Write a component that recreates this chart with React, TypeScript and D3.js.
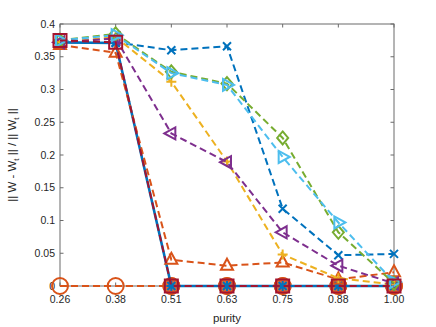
import React from 'react'
import * as d3 from 'd3'

const categories = ['0.26', '0.38', '0.51', '0.63', '0.75', '0.88', '1.00']
const yTicks = [0, 0.05, 0.1, 0.15, 0.2, 0.25, 0.3, 0.35, 0.4]

// one array per curve
const blueSolid = [0.372, 0.371, 0, 0, 0, 0, 0]
const orangeCircle = [0, 0, 0, 0, 0, 0, 0]
const orangeFilled = [null, null, 0, 0, 0, 0, 0]
const blueCross = [0.372, 0.372, 0.36, 0.366, 0.118, 0.047, 0.049]
const orangeTri = [0.368, 0.356, 0.04, 0.031, 0.036, 0.01, 0.021]
const yellowPlus = [0.372, 0.38, 0.312, 0.19, 0.048, 0.012, 0.002]
const purpleLeft = [0.372, 0.378, 0.233, 0.189, 0.082, 0.031, 0.004]
const greenDiamond = [0.375, 0.385, 0.327, 0.309, 0.226, 0.082, 0.004]
const cyanRight = [0.375, 0.383, 0.325, 0.307, 0.197, 0.097, 0.006]
const redSquare = [0.375, 0.372, 0, 0, 0, 0, 0]

type Series = {
    values: (number | null)[]
    color: string
    marker: string
    dashed: boolean
    line: boolean
    width: number
    fill?: string
}

const series: Series[] = [
    { values: orangeFilled, color: '#D95319', marker: 'o', dashed: false, line: false, width: 2, fill: '#E0652C' },
    { values: orangeCircle, color: '#D95319', marker: 'o', dashed: true, line: true, width: 2 },
    { values: blueSolid, color: '#0072BD', marker: '*', dashed: false, line: true, width: 2.6 },
    { values: blueCross, color: '#0072BD', marker: 'x', dashed: true, line: true, width: 2 },
    { values: orangeTri, color: '#D95319', marker: '^', dashed: true, line: true, width: 2 },
    { values: yellowPlus, color: '#EDB120', marker: '+', dashed: true, line: true, width: 2 },
    { values: purpleLeft, color: '#7E2F8E', marker: '<', dashed: true, line: true, width: 2 },
    { values: greenDiamond, color: '#77AC30', marker: 'd', dashed: true, line: true, width: 2 },
    { values: cyanRight, color: '#4DBEEE', marker: '>', dashed: true, line: true, width: 2 },
    { values: redSquare, color: '#A2142F', marker: 's', dashed: true, line: true, width: 2 },
]

const width = 436
const height = 327
const margin = { top: 24, right: 42, bottom: 41, left: 60 }
const innerW = width - margin.left - margin.right
const innerH = height - margin.top - margin.bottom

const markerPath = (m: string, x: number, y: number) => {
    switch (m) {
        case 'x':
            return `M${x - 4},${y - 4}L${x + 4},${y + 4}M${x - 4},${y + 4}L${x + 4},${y - 4}`
        case '+':
            return `M${x - 5},${y}L${x + 5},${y}M${x},${y - 5}L${x},${y + 5}`
        case '*':
            return `M${x - 4},${y - 4}L${x + 4},${y + 4}M${x - 4},${y + 4}L${x + 4},${y - 4}M${x - 5},${y}L${x + 5},${y}M${x},${y - 5}L${x},${y + 5}`
        case '^':
            return `M${x},${y - 7}L${x + 6},${y + 4}L${x - 6},${y + 4}Z`
        case '<':
            return `M${x - 7},${y}L${x + 4},${y - 6}L${x + 4},${y + 6}Z`
        case '>':
            return `M${x + 7},${y}L${x - 4},${y - 6}L${x - 4},${y + 6}Z`
        case 'd':
            return `M${x},${y - 6.5}L${x + 5.5},${y}L${x},${y + 6.5}L${x - 5.5},${y}Z`
        case 's':
            return `M${x - 6.5},${y - 6.5}H${x + 6.5}V${y + 6.5}H${x - 6.5}Z`
        default:
            return ''
    }
}

export default function App() {
    const x = d3.scalePoint<string>().domain(categories).range([margin.left, margin.left + innerW])
    const y = d3.scaleLinear().domain([0, 0.4]).range([margin.top + innerH, margin.top])

    const lineGen = d3.line<number | null>()
        .defined(d => d !== null)
        .x((_, i) => x(categories[i]) as number)
        .y(d => y(d as number))

    const axisColor = '#6a6a6a'
    const textColor = '#262626'
    const font = '"Liberation Sans", Arial, Helvetica, sans-serif'
    const x0 = margin.left
    const x1 = margin.left + innerW
    const y0 = margin.top + innerH
    const y1 = margin.top

    return (
        <svg width={width} height={height} style={{ position: 'absolute', left: 0, top: 0, background: '#fff' }} fontFamily={font}>
            <rect x={0} y={0} width={width} height={height} fill="#fff" />
            {/* box */}
            <rect x={x0} y={y1} width={innerW} height={innerH} fill="none" stroke={axisColor} strokeWidth={1} />
            {categories.map(c => (
                <g key={'xt' + c}>
                    <line x1={x(c)} x2={x(c)} y1={y0} y2={y0 - 3.5} stroke={axisColor} />
                    <line x1={x(c)} x2={x(c)} y1={y1} y2={y1 + 3.5} stroke={axisColor} />
                    <text x={x(c)} y={y0 + 17} textAnchor="middle" fontSize={10.5} fill={textColor}>{c}</text>
                </g>
            ))}
            {yTicks.map(t => (
                <g key={'yt' + t}>
                    <line x1={x0} x2={x0 + 3.5} y1={y(t)} y2={y(t)} stroke={axisColor} />
                    <line x1={x1} x2={x1 - 3.5} y1={y(t)} y2={y(t)} stroke={axisColor} />
                    <text x={x0 - 5} y={y(t)} dy="0.35em" textAnchor="end" fontSize={10.5} fill={textColor}>{String(t)}</text>
                </g>
            ))}
            <text x={(x0 + x1) / 2} y={322} textAnchor="middle" fontSize={11.5} fill={textColor}>purity</text>
            <text transform={`translate(16,${(y0 + y1) / 2}) rotate(-90)`} textAnchor="middle" fontSize={11.5} fill={textColor}>
                <tspan>|| W - W</tspan>
                <tspan fontSize={8} dy={3}>t</tspan>
                <tspan dy={-3}> || / || W</tspan>
                <tspan fontSize={8} dy={3}>t</tspan>
                <tspan dy={-3}> ||</tspan>
            </text>
            {series.map((s, si) => (
                <g key={'s' + si}>
                    {s.line && (
                        <path
                            d={lineGen(s.values) || ''}
                            fill="none"
                            stroke={s.color}
                            strokeWidth={s.width}
                            strokeDasharray={s.dashed ? '7,4' : undefined}
                        />
                    )}
                    {s.values.map((v, i) => {
                        if (v === null) return null
                        const cx = x(categories[i]) as number
                        const cy = y(v)
                        if (s.marker === 'o') {
                            return <circle key={i} cx={cx} cy={cy} r={8} fill={s.fill || 'none'} stroke={s.color} strokeWidth={2} />
                        }
                        return <path key={i} d={markerPath(s.marker, cx, cy)} fill="none" stroke={s.color} strokeWidth={2} strokeLinejoin="miter" />
                    })}
                </g>
            ))}
        </svg>
    )
}
